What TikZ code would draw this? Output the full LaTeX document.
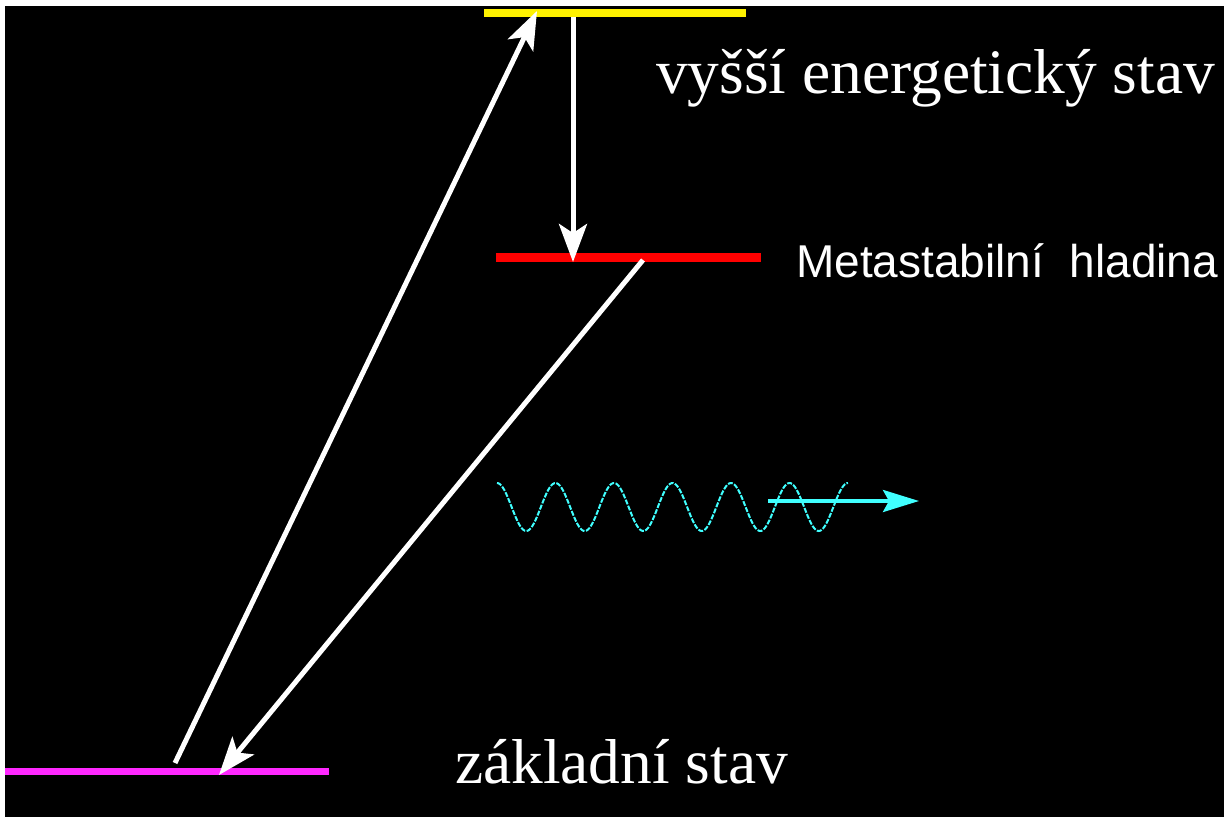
\documentclass[tikz,border=0pt]{standalone}
\usepackage{fontspec}
\setmainfont{Liberation Serif}
\newfontfamily\pixfont{Liberation Sans}
\usetikzlibrary{arrows.meta}
\definecolor{wavecyan}{RGB}{64,255,255}
\definecolor{lvlmag}{RGB}{255,40,255}
\tikzset{
  level/.style={inner sep=0pt, minimum height=#1, outer sep=0pt},
  bigtext/.style={text=white, anchor=base west, inner sep=0pt, font=\fontsize{63.4}{70}\selectfont},
  pixtext/.style={text=white, anchor=base west, inner sep=0pt, font=\pixfont\fontsize{46}{52}\selectfont},
  transition/.style={draw=white, line width=5pt, -{Stealth[length=38pt, width=28pt, inset=9pt]}},
}
\begin{document}
\begin{tikzpicture}[x=1pt, y=-1pt]
\useasboundingbox (0,0) rectangle (1224,817);
\fill[white] (0,0) rectangle (1224,817);
\fill[black] (5,6) rectangle (1224,817);
% energy levels
\node[level=8pt, fill=yellow, minimum width=262pt] (high) at (615,13) {};
\node[level=9pt, fill=red, minimum width=265pt] (meta) at (628.5,257.5) {};
\node[level=7pt, fill=lvlmag, minimum width=324pt] (ground) at (167,771.5) {};
% labels
\node[bigtext] (lhigh) at (656,93) {vyšší energetický stav};
\node[pixtext] (lmeta) at (796,277) {Metastabilní\ \ hladina};
\node[bigtext] (lground) at (455,783) {základní stav};
% transitions
\coordinate (pumpA) at (175,763);
\coordinate (pumpB) at (537,11);
\coordinate (decA) at (573,17);
\coordinate (decB) at (573,262);
\coordinate (emA) at (643,260);
\coordinate (emB) at (219,775);
\draw[transition] (pumpA) -- (pumpB);
\draw[transition, line width=5pt] (decA) -- (decB);
\draw[transition] (emA) -- (emB);
% photon
\draw[wavecyan, line width=2pt, dash pattern=on 5pt off 1.5pt] plot[domain=497:848, samples=240, smooth] (\x, {507-24*cos((\x-497)/58.5*360)});
\coordinate (phA) at (768,501);
\coordinate (phB) at (919,501);
\draw[wavecyan, line width=3.5pt, -{Stealth[length=36pt, width=22pt, inset=6pt]}] (phA) -- (phB);
\end{tikzpicture}
\end{document}
